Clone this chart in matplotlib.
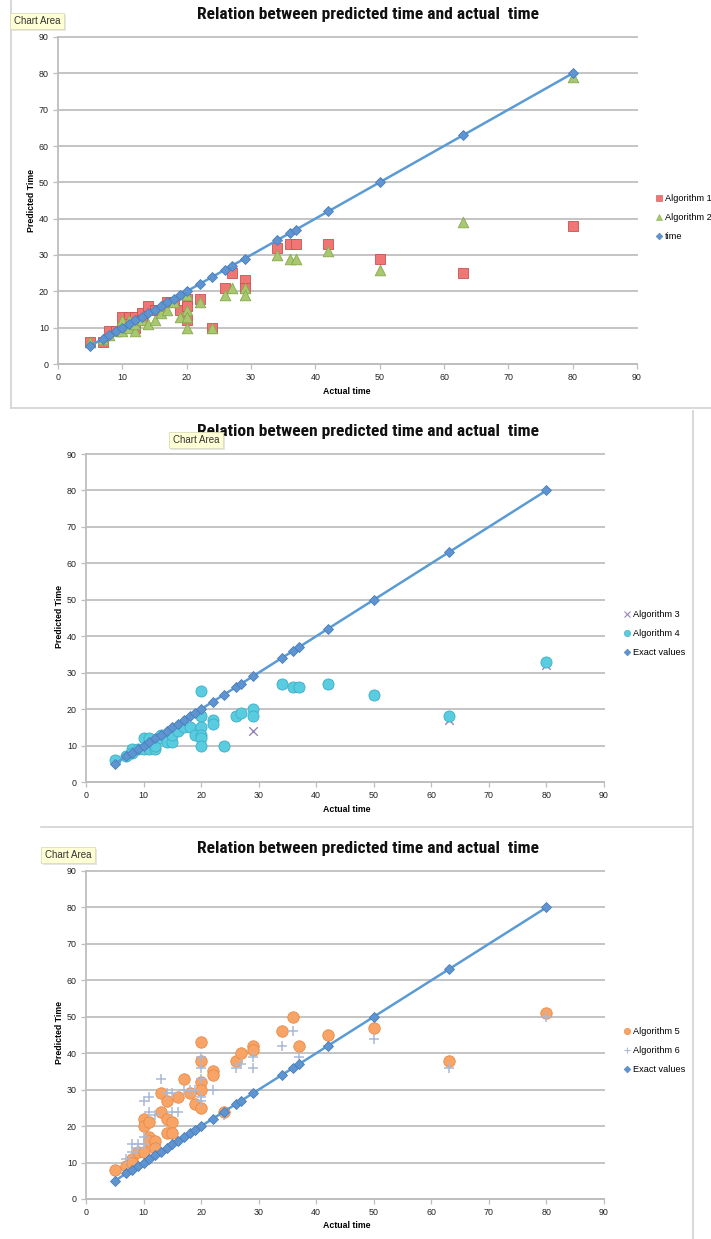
import matplotlib
matplotlib.use("Agg")
import matplotlib.pyplot as plt
from matplotlib.lines import Line2D
from matplotlib.patches import Rectangle
from matplotlib import font_manager

W, H, DPI = 711, 1239, 100

# ---------------------------------------------------------------- text
TITLE = "Relation between predicted time and actual  time"
X_LABEL = "Actual time"
Y_LABEL = "Predicted Time"
TOOLTIP = "Chart Area"
TICKS = [0, 10, 20, 30, 40, 50, 60, 70, 80, 90]

# ---------------------------------------------------------------- data
# exact (reference) durations: predicted == actual
exact_x = [5, 7, 8, 9, 10, 11, 12, 13, 14, 15, 16, 17, 18, 19, 20,
           22, 24, 26, 27, 29, 34, 36, 37, 42, 50, 63, 80]
exact_y = [5, 7, 8, 9, 10, 11, 12, 13, 14, 15, 16, 17, 18, 19, 20,
           22, 24, 26, 27, 29, 34, 36, 37, 42, 50, 63, 80]

alg1_x = [5, 7, 8, 9, 10, 10, 11, 11, 12, 12, 13, 13, 14, 15, 16, 17, 18, 19,
          20, 20, 20, 22, 24, 26, 27, 29, 29, 34, 36, 37, 42, 50, 63, 80]
alg1_y = [6, 6, 9, 9, 13, 10, 13, 11, 13, 10, 14, 12, 16, 15, 15, 17, 17, 15,
          18, 16, 12, 18, 10, 21, 25, 23, 21, 32, 33, 33, 33, 29, 25, 38]

alg2_x = [5, 7, 8, 9, 10, 10, 11, 11, 12, 12, 13, 14, 15, 16, 17, 18, 19,
          20, 20, 20, 20, 22, 24, 26, 27, 29, 29, 34, 36, 37, 42, 50, 63, 80]
alg2_y = [6, 7, 8, 9, 12, 9, 12, 10, 9, 11, 12, 11, 12, 14, 15, 17, 13,
          19, 15, 13, 10, 17, 10, 19, 21, 21, 19, 30, 29, 29, 31, 26, 39, 79]

alg3_x = [5, 8, 10, 12, 14, 15, 20, 20, 24, 26, 29, 34, 36, 37, 42, 50, 63, 80]
alg3_y = [6, 9, 11, 10, 12, 11, 18, 12, 10, 18, 14, 27, 26, 26, 27, 24, 17, 32]

alg4_x = [5, 7, 8, 8, 9, 10, 10, 11, 11, 12, 12, 13, 13, 14, 15, 15, 16, 17,
          18, 19, 20, 20, 20, 20, 20, 20, 22, 22, 24, 26, 27, 29, 29, 34, 36,
          37, 42, 50, 63, 80]
alg4_y = [6, 7, 9, 8, 9, 12, 9, 12, 9, 9, 10, 13, 12, 11, 11, 13, 14, 15,
          15, 13, 25, 18, 15, 13, 12, 10, 17, 16, 10, 18, 19, 20, 18, 27, 26,
          26, 27, 24, 18, 33]

alg5_x = [5, 7, 8, 8, 9, 10, 10, 10, 11, 11, 11, 12, 12, 13, 13, 14, 14, 14,
          15, 15, 16, 17, 18, 19, 20, 20, 20, 20, 20, 22, 22, 24, 26, 27, 29,
          29, 34, 36, 37, 42, 50, 63, 80]
alg5_y = [8, 9, 11, 10, 13, 22, 20, 13, 21, 17, 16, 16, 14, 29, 24, 27, 22, 18,
          21, 18, 28, 33, 29, 26, 43, 38, 32, 30, 25, 35, 34, 24, 38, 40, 42,
          41, 46, 50, 42, 45, 47, 38, 51]

alg6_x = [7, 8, 8, 9, 9, 10, 10, 10, 11, 11, 12, 13, 14, 15, 15, 16, 17, 18,
          19, 20, 20, 20, 20, 20, 22, 24, 26, 27, 29, 29, 34, 36, 37, 42, 50,
          63, 80]
alg6_y = [11, 13, 15, 15, 14, 27, 17, 15, 28, 24, 23, 33, 29, 29, 24, 24, 30, 30,
          30, 39, 36, 33, 28, 27, 30, 23, 36, 37, 39, 36, 42, 46, 39, 42, 44,
          36, 50]

# ---------------------------------------------------------------- style
def pick_font(cands):
    have = {f.name for f in font_manager.fontManager.ttflist}
    for c in cands:
        if c in have:
            return c
    return "DejaVu Sans"

NARROW = pick_font(["Liberation Sans Narrow", "Roboto Condensed",
                    "Open Sans Condensed", "Liberation Sans"])
BODY = pick_font(["Liberation Sans Narrow", "Liberation Sans", "Roboto"])

GRID = "#C4C4C4"
AXIS = "#BEBEBE"
LINE_BLUE = "#5B9BD5"
DIAMOND_FC = "#5E95D1"
DIAMOND_EC = "#4A7EBC"
FRAME = "#D2D2D2"

fig = plt.figure(figsize=(W / DPI, H / DPI), dpi=DPI)
fig.patch.set_facecolor("white")


def fx(x):
    return x / W


def fy(y):
    return 1 - y / H


def add_px_axes(x0, y0, x1, y1):
    return fig.add_axes([fx(x0), fy(y1), (x1 - x0) / W, (y1 - y0) / H])


def frame_line(x0, y0, x1, y1):
    fig.add_artist(Line2D([fx(x0), fx(x1)], [fy(y0), fy(y1)],
                          transform=fig.transFigure, color=FRAME, lw=1.2))


def tooltip(x, y, w=54, h=16):
    fig.add_artist(Rectangle((fx(x + 2), fy(y + h + 2)), w / W, h / H,
                             transform=fig.transFigure, fc="#000000",
                             alpha=0.10, ec="none", zorder=20))
    fig.add_artist(Rectangle((fx(x), fy(y + h)), w / W, h / H,
                             transform=fig.transFigure, fc="#FFFFD6",
                             ec="#DCDCB8", lw=0.6, zorder=21))
    fig.text(fx(x + w / 2), fy(y + h / 2), TOOLTIP, ha="center", va="center",
             fontsize=7, color="#333333", family=BODY, zorder=22)


def style_axes(ax):
    ax.set_xlim(0, 90)
    ax.set_ylim(0, 90)
    ax.set_xticks(TICKS)
    ax.set_yticks(TICKS)
    for s in ("top", "right"):
        ax.spines[s].set_visible(False)
    for s in ("left", "bottom"):
        ax.spines[s].set_color(AXIS)
        ax.spines[s].set_linewidth(1.3)
    ax.yaxis.grid(True, color=GRID, linewidth=1.4)
    for gl in ax.get_ygridlines():
        gl.set_clip_on(False)
    ax.set_axisbelow(True)
    ax.tick_params(length=3.5, width=0.9, color=AXIS, labelsize=6.4, pad=3,
                   labelcolor="#222222")
    for lab in ax.get_xticklabels() + ax.get_yticklabels():
        lab.set_family(BODY)


def decorate(ax, title_y, ylabel_x, ylabel_y, xlabel_y):
    fig.text(fx(368), fy(title_y), TITLE, ha="center", va="center",
             fontsize=12.6, fontweight="bold", family=NARROW, color="#111111")
    fig.text(fx(ylabel_x), fy(ylabel_y), Y_LABEL, rotation=90, ha="center",
             va="center", fontsize=6.3, fontweight="bold", family=BODY)
    fig.text(fx(347), fy(xlabel_y), X_LABEL, ha="center", va="center",
             fontsize=6.3, fontweight="bold", family=BODY)


def exact_line(ax):
    ax.plot(exact_x, exact_y, color=LINE_BLUE, lw=1.8, marker="D", ms=5.2,
            mfc=DIAMOND_FC, mec=DIAMOND_EC, mew=0.6, zorder=6)


def diamond_handle():
    return Line2D([], [], ls="none", marker="D", ms=3.4, mfc=DIAMOND_FC,
                  mec=DIAMOND_EC, mew=0.4)


def add_legend(ax, handles, labels, x, y):
    ax.legend(handles, labels, loc="upper left",
              bbox_to_anchor=(fx(x), fy(y)), bbox_transform=fig.transFigure,
              frameon=False, handlelength=0.7,
              handletextpad=0.3, labelspacing=1.1, borderpad=0,
              borderaxespad=0, prop={"family": BODY, "size": 6.6})


# ---------------------------------------------------------------- panel 1
frame_line(11, 0, 11, 408)
frame_line(11, 408, 711, 408)
ax1 = add_px_axes(58, 37, 637, 364)
style_axes(ax1)
ax1.scatter(alg1_x, alg1_y, marker="s", s=54, fc="#EF7675", ec="#C9524F",
            linewidths=0.6, zorder=3)
ax1.scatter(alg2_x, alg2_y, marker="^", s=58, fc="#A7C86F", ec="#88A84F",
            linewidths=0.6, zorder=4)
exact_line(ax1)
decorate(ax1, 14, 32, 200, 391)
tooltip(10, 13)
add_legend(ax1,
           [Line2D([], [], ls="none", marker="s", ms=4, mfc="#EF7675",
                   mec="#C9524F", mew=0.4),
            Line2D([], [], ls="none", marker="^", ms=4.4, mfc="#A7C86F",
                   mec="#88A84F", mew=0.4),
            diamond_handle()],
           ["Algorithm 1", "Algorithm 2", "time"], 656, 194)

# ---------------------------------------------------------------- panel 2
frame_line(693, 411, 693, 827)
ax2 = add_px_axes(86, 454, 604, 782)
style_axes(ax2)
ax2.scatter(alg3_x, alg3_y, marker="x", s=38, c="#9A85B9", linewidths=1.0,
            zorder=3)
ax2.scatter(alg4_x, alg4_y, marker="o", s=64, fc="#5ACCE0", ec="#3DB0C8",
            linewidths=0.6, zorder=4)
exact_line(ax2)
decorate(ax2, 431, 60, 617, 809)
tooltip(169, 432)
add_legend(ax2,
           [Line2D([], [], ls="none", marker="x", ms=4, mec="#9A85B9",
                   mew=0.8),
            Line2D([], [], ls="none", marker="o", ms=4.6, mfc="#5ACCE0",
                   mec="#3DB0C8", mew=0.4),
            diamond_handle()],
           ["Algorithm 3", "Algorithm 4", "Exact values"], 624, 610)

# ---------------------------------------------------------------- panel 3
frame_line(41, 827, 693, 827)
frame_line(693, 827, 693, 1239)
ax3 = add_px_axes(86, 871, 604, 1199)
style_axes(ax3)
ax3.scatter(alg5_x, alg5_y, marker="o", s=68, fc="#F8A467", ec="#E88B48",
            linewidths=0.6, zorder=3)
ax3.scatter(alg6_x, alg6_y, marker="+", s=52, c="#AAB9D6", linewidths=1.1,
            zorder=4)
exact_line(ax3)
decorate(ax3, 848, 60, 1033, 1226)
tooltip(41, 847)
add_legend(ax3,
           [Line2D([], [], ls="none", marker="o", ms=4.6, mfc="#F8A467",
                   mec="#E88B48", mew=0.4),
            Line2D([], [], ls="none", marker="+", ms=4.6, mec="#AAB9D6",
                   mew=0.8),
            diamond_handle()],
           ["Algorithm 5", "Algorithm 6", "Exact values"], 624, 1027)

fig.savefig("out.png", dpi=DPI, facecolor="white")
